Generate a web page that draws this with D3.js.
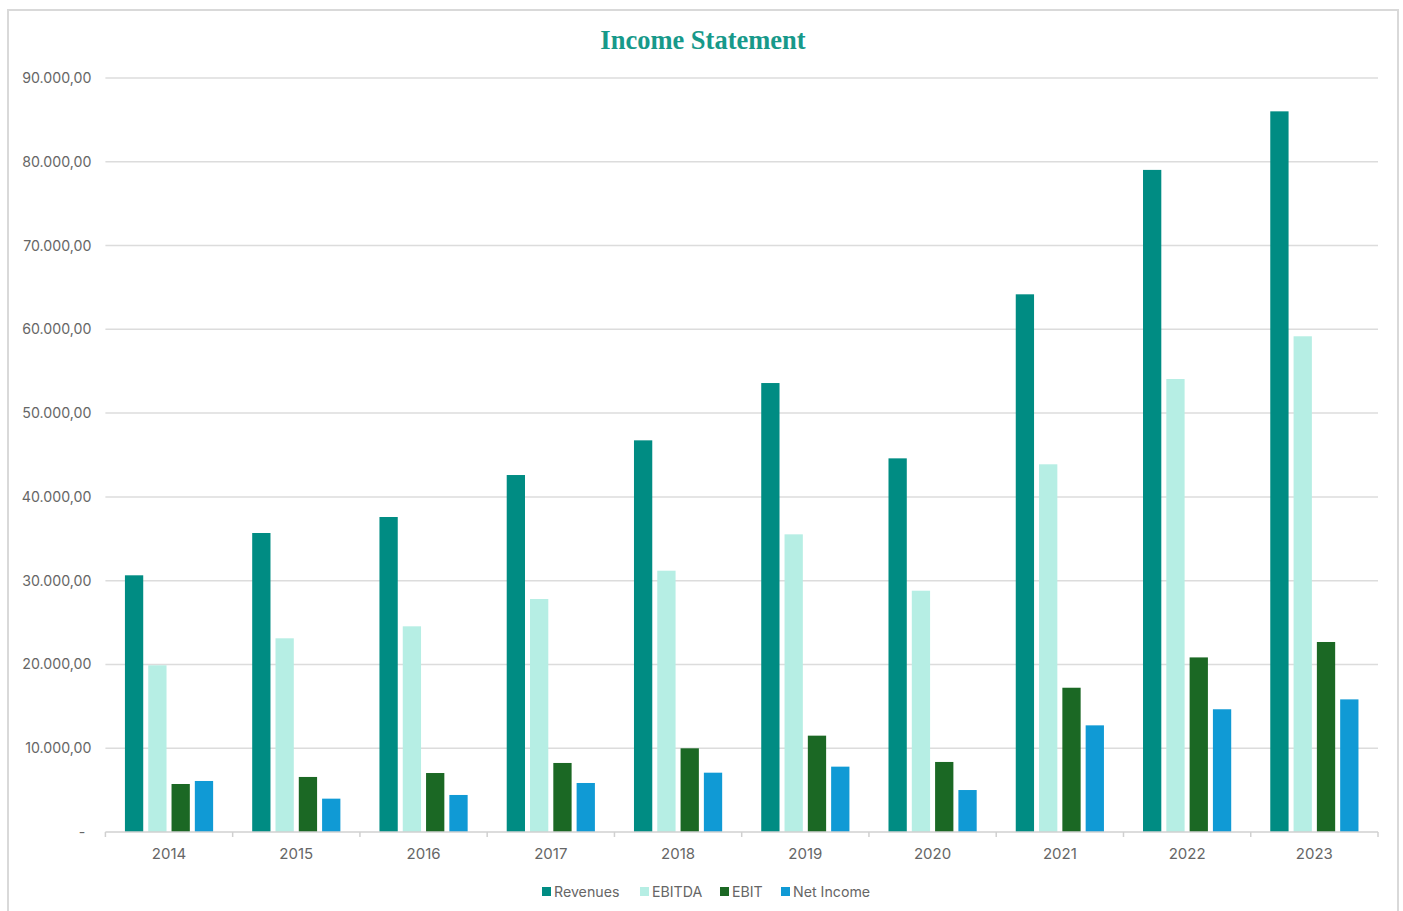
<!DOCTYPE html>
<html>
<head>
<meta charset="utf-8">
<script src="https://cdn.jsdelivr.net/npm/d3@7"></script>
<style>
  html, body { margin: 0; padding: 0; background: #ffffff; }
  svg { display: block; }
</style>
</head>
<body>
<svg id="chart" width="1403" height="911"></svg>
<script>
// Income statement figures per year
const years = ["2014","2015","2016","2017","2018","2019","2020","2021","2022","2023"];
const seriesNames = ["Revenues","EBITDA","EBIT","Net Income"];
const revenues  = [30640, 35690, 37600, 42610, 46750, 53590, 44600, 64180, 79030, 86020];
const ebitda    = [19900, 23120, 24550, 27810, 31190, 35530, 28800, 43890, 54070, 59170];
const ebit      = [5730, 6570, 7040, 8240, 9990, 11500, 8360, 17220, 20840, 22680];
const netIncome = [6090, 3980, 4420, 5850, 7080, 7800, 5010, 12730, 14650, 15830];
const yTicks = [0, 10000, 20000, 30000, 40000, 50000, 60000, 70000, 80000, 90000];

const seriesValues = [revenues, ebitda, ebit, netIncome];
const colors = ["#008c83", "#b6eee4", "#1b6824", "#109ad5"];
const labelFont = "Inter, 'Open Sans', sans-serif";
const labelColor = "#666666";

const svg = d3.select("#chart");
const m = { left: 105.4, right: 1378, top: 78, bottom: 832 };

// chart frame
svg.append("rect")
  .attr("x", 8).attr("y", 10)
  .attr("width", 1390).attr("height", 920)
  .attr("fill", "#ffffff")
  .attr("stroke", "#d9d9d9").attr("stroke-width", 2);

// title
svg.append("text")
  .attr("x", 703).attr("y", 49)
  .attr("text-anchor", "middle")
  .attr("font-family", "'Liberation Serif', 'Times New Roman', serif")
  .attr("font-weight", "bold")
  .attr("font-size", 26.5)
  .attr("fill", "#17998a")
  .text("Income Statement");

const x0 = d3.scaleBand().domain(years).range([m.left, m.right]).paddingInner(0).paddingOuter(0);
const bw = x0.bandwidth();
const groupW = bw * 0.693;
const x1 = d3.scaleBand().domain(seriesNames)
  .range([(bw - groupW) / 2, (bw + groupW) / 2])
  .paddingInner(0.215).paddingOuter(0);
const y = d3.scaleLinear().domain([0, 90000]).range([m.bottom, m.top]);

const fmt = v => v === 0 ? "-" :
  d3.format(",.2f")(v).replace(/,/g, "#").replace(/\./g, ",").replace(/#/g, ".");

// y labels via axis
const yAxis = d3.axisLeft(y).tickValues(yTicks).tickFormat(fmt).tickSize(0).tickPadding(14);
const yg = svg.append("g").attr("transform", `translate(${m.left},0)`).call(yAxis);
yg.select(".domain").remove();
yg.selectAll("text")
  .attr("font-family", labelFont)
  .attr("font-size", 14.2)
  .attr("fill", labelColor);
yg.selectAll(".tick").filter(d => d === 0).select("text").attr("dx", -6);

// horizontal gridlines
svg.append("g").selectAll("line")
  .data(yTicks.filter(d => d > 0))
  .join("line")
  .attr("x1", m.left).attr("x2", m.right)
  .attr("y1", d => y(d)).attr("y2", d => y(d))
  .attr("stroke", "#dcdcdc").attr("stroke-width", 1.5);

// bars
const groups = svg.append("g").selectAll("g")
  .data(years)
  .join("g")
  .attr("transform", d => `translate(${x0(d)},0)`);

groups.selectAll("rect")
  .data((d, i) => seriesNames.map((s, k) => ({ s, k, v: seriesValues[k][i] })))
  .join("rect")
  .attr("x", d => x1(d.s))
  .attr("width", x1.bandwidth())
  .attr("y", d => y(d.v))
  .attr("height", d => y(0) - y(d.v))
  .attr("fill", d => colors[d.k]);

// x axis with ticks at category boundaries
svg.append("line")
  .attr("x1", m.left).attr("x2", m.right)
  .attr("y1", y(0)).attr("y2", y(0))
  .attr("stroke", "#d0d0d0").attr("stroke-width", 1.5);
svg.append("g").selectAll("line")
  .data(years.concat(["end"]))
  .join("line")
  .attr("x1", (d, i) => m.left + i * bw)
  .attr("x2", (d, i) => m.left + i * bw)
  .attr("y1", y(0)).attr("y2", y(0) + 5)
  .attr("stroke", "#d0d0d0").attr("stroke-width", 1.5);

svg.append("g").selectAll("text")
  .data(years)
  .join("text")
  .attr("x", d => x0(d) + bw / 2)
  .attr("y", 859)
  .attr("text-anchor", "middle")
  .attr("font-family", labelFont)
  .attr("font-size", 15)
  .attr("fill", labelColor)
  .text(d => d);

// legend
const legendX = [542, 640, 720, 781];
const lg = svg.append("g").selectAll("g")
  .data(seriesNames)
  .join("g")
  .attr("transform", (d, i) => `translate(${legendX[i]},887)`);
lg.append("rect")
  .attr("width", 9).attr("height", 9)
  .attr("fill", (d, i) => colors[i]);
lg.append("text")
  .attr("x", 12).attr("y", 9.5)
  .attr("font-family", labelFont)
  .attr("font-size", 14.2)
  .attr("fill", labelColor)
  .text(d => d);
</script>
</body>
</html>
